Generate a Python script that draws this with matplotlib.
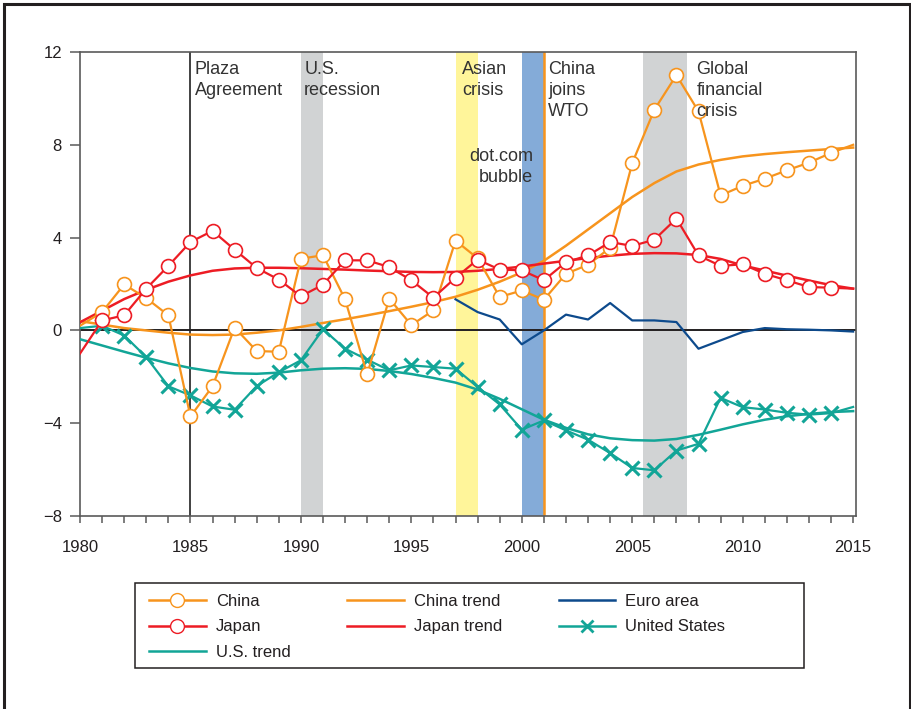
import matplotlib

matplotlib.use("Agg")
import matplotlib.pyplot as plt
from matplotlib.lines import Line2D
from matplotlib.patches import Rectangle

plt.rcParams["font.family"] = ["Liberation Sans", "DejaVu Sans"]

# current account balance, percent of GDP
years = list(range(1980, 2016))
china = [0.2, 0.79, 1.98, 1.39, 0.65, -3.71, -2.41, 0.12, -0.89, -0.92,
         3.09, 3.24, 1.34, -1.90, 1.37, 0.23, 0.86, 3.87, 3.11, 1.44,
         1.72, 1.32, 2.44, 2.83, 3.56, 7.21, 9.51, 11.0, 9.44, 5.82,
         6.23, 6.54, 6.90, 7.23, 7.65, 8.0]
japan = [-1.0, 0.43, 0.65, 1.80, 2.78, 3.81, 4.29, 3.48, 2.69, 2.19,
         1.47, 1.97, 3.02, 3.02, 2.73, 2.16, 1.41, 2.27, 3.05, 2.62,
         2.59, 2.16, 2.94, 3.23, 3.81, 3.64, 3.91, 4.82, 3.23, 2.78,
         2.85, 2.44, 2.16, 1.87, 1.84, 1.8]
us = [0.1, 0.2, -0.22, -1.15, -2.41, -2.8, -3.28, -3.42, -2.4, -1.8,
      -1.29, 0.05, -0.79, -1.26, -1.72, -1.51, -1.58, -1.65, -2.44, -3.19,
      -4.28, -3.88, -4.31, -4.71, -5.29, -5.93, -6.03, -5.18, -4.89, -2.91,
      -3.31, -3.41, -3.55, -3.63, -3.57, -3.3]
china_trend = [0.4, 0.25, 0.1, 0.0, -0.1, -0.18, -0.2, -0.18, -0.1, 0.0,
               0.15, 0.32, 0.48, 0.65, 0.83, 1.02, 1.22, 1.45, 1.75, 2.1,
               2.5, 3.0, 3.65, 4.35, 5.05, 5.75, 6.35, 6.85, 7.15, 7.35,
               7.5, 7.6, 7.68, 7.75, 7.82, 7.88]
japan_trend = [0.35, 0.85, 1.35, 1.75, 2.1, 2.37, 2.57, 2.67, 2.7, 2.7,
               2.68, 2.65, 2.62, 2.58, 2.55, 2.52, 2.51, 2.52, 2.57, 2.65,
               2.75, 2.88, 3.0, 3.12, 3.22, 3.3, 3.33, 3.32, 3.25, 3.08,
               2.8, 2.58, 2.36, 2.15, 1.95, 1.8]
us_trend = [-0.38, -0.65, -0.92, -1.18, -1.42, -1.62, -1.77, -1.85, -1.87, -1.82,
            -1.72, -1.65, -1.63, -1.66, -1.75, -1.88, -2.05, -2.25, -2.55, -2.95,
            -3.4, -3.85, -4.2, -4.48, -4.65, -4.73, -4.75, -4.68, -4.5, -4.28,
            -4.05, -3.85, -3.7, -3.6, -3.52, -3.48]
euro_years = list(range(1997, 2016))
euro = [1.34, 0.79, 0.47, -0.6, 0.0, 0.68, 0.47, 1.18, 0.43, 0.43,
        0.36, -0.79, -0.43, -0.07, 0.1, 0.05, 0.03, 0.0, -0.05]

# shaded episodes and labels
bands = [(1990, 1991, "#d1d3d4"), (1997, 1998, "#fff59a"),
         (2000, 2001, "#84abd8"), (2005.5, 2007.5, "#d1d3d4")]
notes = [(1985.2, "Plaza\nAgreement", "left"), (1990.15, "U.S.\nrecession", "left"),
         (1997.3, "Asian\ncrisis", "left"), (2001.2, "China\njoins\nWTO", "left"),
         (2007.9, "Global\nfinancial\ncrisis", "left")]

ORANGE = "#f7941d"
RED = "#ed1c24"
NAVY = "#0d4a8c"
TEAL = "#12a597"
INK = "#231f20"
AXIS = "#5a5a5a"

fig = plt.figure(figsize=(9.12, 7.09), dpi=100)
ax = fig.add_axes([80 / 912, 1 - 516 / 709, (856 - 80) / 912, (516 - 52) / 709])

for x0, x1, col in bands:
    ax.axvspan(x0, x1, color=col, lw=0, zorder=0)
ax.axvline(1985, color="#333333", lw=1.3, zorder=1)
ax.axvline(2001, color=ORANGE, lw=1.8, zorder=1)
ax.axhline(0, color=INK, lw=1.4, zorder=1)

marks = list(range(1, 35))
ax.plot(years, china_trend, color=ORANGE, lw=1.8, zorder=3)
ax.plot(years, japan_trend, color=RED, lw=1.8, zorder=3)
ax.plot(years, us_trend, color=TEAL, lw=1.8, zorder=3)
ax.plot(euro_years, euro, color=NAVY, lw=1.6, zorder=3)
ax.plot(years, us, color=TEAL, lw=1.6, marker="x", ms=9.5, mew=2.2,
        markevery=marks, zorder=4)
ax.plot(years, china, color=ORANGE, lw=1.6, marker="o", ms=10, mfc="white",
        mec=ORANGE, mew=1.2, markevery=marks, zorder=5)
ax.plot(years, japan, color=RED, lw=1.6, marker="o", ms=10, mfc="white",
        mec=RED, mew=1.2, markevery=marks, zorder=6)

for x, txt, ha in notes:
    ax.text(x, 11.6, txt, ha=ha, va="top", fontsize=13, color="#333333",
            linespacing=1.3, zorder=7)
ax.text(2000.5, 7.85, "dot.com\nbubble", ha="right", va="top", fontsize=13,
        color="#333333", linespacing=1.3, zorder=7)

ax.set_xlim(1980, 2015.13)
ax.set_ylim(-8, 12)
ax.set_xticks(range(1980, 2016, 5))
ax.set_xticks(range(1980, 2016), minor=True)
ax.set_yticks(range(-8, 13, 4))
ax.set_yticklabels(["\u22128", "\u22124", "0", "4", "8", "12"])
for s in ax.spines.values():
    s.set_color(AXIS)
    s.set_linewidth(1.2)
ax.tick_params(axis="y", length=7, width=1.1, color=AXIS, pad=6,
               labelsize=12, labelcolor=INK)
ax.tick_params(axis="x", which="both", length=5, width=1.1, color=AXIS,
               pad=12, labelsize=12, labelcolor=INK)

handles = [
    Line2D([], [], color=ORANGE, lw=1.8, marker="o", ms=10, mfc="white", mec=ORANGE),
    Line2D([], [], color=RED, lw=1.8, marker="o", ms=10, mfc="white", mec=RED),
    Line2D([], [], color=TEAL, lw=1.8),
    Line2D([], [], color=ORANGE, lw=1.8),
    Line2D([], [], color=RED, lw=1.8),
    Line2D([], [], color=NAVY, lw=1.8),
    Line2D([], [], color=TEAL, lw=1.8, marker="x", ms=9, mew=2),
]
labels = ["China", "Japan", "U.S. trend", "China trend", "Japan trend",
          "Euro area", "United States"]
fig.legend(handles, labels, ncol=3, loc="upper left",
           bbox_to_anchor=(149 / 912, 1 - 594 / 709), frameon=False,
           fontsize=12, handlelength=3.4, handletextpad=0.6,
           columnspacing=3.4, labelspacing=0.62, borderpad=0, borderaxespad=0,
           labelcolor=INK)

# legend box and outer frame
fig.patches.append(Rectangle((135 / 912, 1 - 668 / 709), (804 - 135) / 912, 85 / 709,
                             transform=fig.transFigure, fill=False, ec=INK, lw=1.1))
fig.patches.append(Rectangle((4 / 912, -0.1), 906 / 912, 1.1 - 4 / 709,
                             transform=fig.transFigure, fill=False, ec=INK, lw=2.2,
                             clip_on=False))

fig.savefig("out.png", dpi=100)
